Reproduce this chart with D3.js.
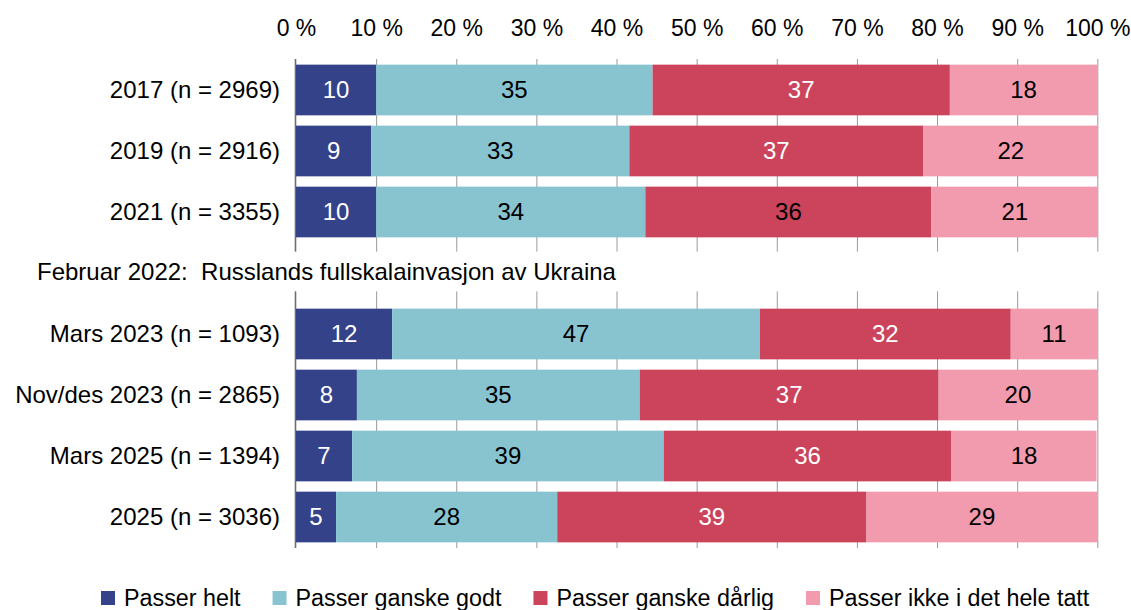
<!DOCTYPE html>
<html>
<head>
<meta charset="utf-8">
<script src="https://cdn.jsdelivr.net/npm/d3@7"></script>
<style>
  body { margin: 0; background: #fff; }
  svg { display: block; font-family: "Liberation Sans", Arial, sans-serif; }
</style>
</head>
<body>
<div id="chart"></div>
<script>
// Rows (top to bottom). 'gap' is the spacer row holding the event note
const rows = ['2017 (n = 2969)', '2019 (n = 2916)', '2021 (n = 3355)', 'gap',
  'Mars 2023 (n = 1093)', 'Nov/des 2023 (n = 2865)', 'Mars 2025 (n = 1394)', '2025 (n = 3036)']
const series = ['Passer helt', 'Passer ganske godt', 'Passer ganske dårlig', 'Passer ikke i det hele tatt']
const colours = ['#34428a', '#88c4d0', '#cb445b', '#f29baf']

// Shares as drawn, one list per series
const helt    = [10.0,  9.4, 10.0, 12.0,  7.6,  7.0,  5.0]
const godt    = [34.5, 32.2, 33.6, 45.9, 35.3, 38.9, 27.6]
const darlig  = [37.1, 36.7, 35.7, 31.3, 37.3, 35.9, 38.6]
const ikke    = [18.4, 21.8, 20.8, 10.8, 19.8, 18.1, 28.8]

// Printed labels, one list per series
const heltLbl   = [10,  9, 10, 12,  8,  7,  5]
const godtLbl   = [35, 33, 34, 47, 35, 39, 28]
const darligLbl = [37, 37, 36, 32, 37, 36, 39]
const ikkeLbl   = [18, 22, 21, 11, 20, 18, 29]

const gapNote = 'Februar 2022:  Russlands fullskalainvasjon av Ukraina'
const xTicks = [0, 10, 20, 30, 40, 50, 60, 70, 80, 90, 100]

const W = 1131, H = 610
const svg = d3.select('#chart').append('svg')
  .attr('width', W).attr('height', H)

const x = d3.scaleLinear().domain([0, 100]).range([296, 1097.3])
const y = d3.scaleBand().domain(rows).range([59, 548])
  .paddingInner(0.169).paddingOuter(0.0925)

// build stacked table
const dataRows = rows.filter(r => r !== 'gap')
const table = dataRows.map((r, i) => ({
  row: r,
  'Passer helt': helt[i],
  'Passer ganske godt': godt[i],
  'Passer ganske dårlig': darlig[i],
  'Passer ikke i det hele tatt': ikke[i],
  labels: [heltLbl[i], godtLbl[i], darligLbl[i], ikkeLbl[i]]
}))
const stacked = d3.stack().keys(series)(table)

// Axis + gridlines
const gAxis = svg.append('g')
  .attr('transform', 'translate(0, 59)')
  .call(d3.axisTop(x).tickValues(xTicks).tickFormat(d => d + ' %')
    .tickSize(-(548 - 59)).tickPadding(23))
gAxis.select('.domain').remove()
gAxis.selectAll('.tick line')
  .attr('stroke', d => d === 0 ? '#6e6e6e' : '#9a9a9a')
  .attr('stroke-width', d => d === 0 ? 1.6 : 1)
  .attr('transform', d => d === 0 ? 'translate(-1,0)' : null)
gAxis.selectAll('.tick text')
  .attr('fill', '#000')
  .style('font-size', '23px')
  .style('font-family', '"Liberation Sans", Arial, sans-serif')

// white band for the gap row, breaking the gridlines
svg.append('rect')
  .attr('x', 280).attr('width', 840)
  .attr('y', y('gap') + 4).attr('height', y.bandwidth() - 11)
  .attr('fill', '#fff')

svg.append('text')
  .attr('x', 37)
  .attr('y', y('gap') + y.bandwidth() / 2 - 1)
  .attr('dy', '0.35em')
  .style('font-size', '24px')
  .style('white-space', 'pre')
  .attr('xml:space', 'preserve')
  .text(gapNote)

// Bars
const gBars = svg.append('g')
gBars.selectAll('g.series')
  .data(stacked)
  .join('g')
  .attr('class', 'series')
  .attr('fill', (d, i) => colours[i])
  .selectAll('rect')
  .data(d => d)
  .join('rect')
  .attr('x', d => x(d[0]))
  .attr('width', d => x(d[1]) - x(d[0]))
  .attr('y', d => y(d.data.row))
  .attr('height', y.bandwidth())

// Value labels
const gLabels = svg.append('g')
stacked.forEach((s, si) => {
  gLabels.selectAll(null)
    .data(s)
    .join('text')
    .attr('x', d => (x(d[0]) + x(d[1])) / 2)
    .attr('y', d => y(d.data.row) + y.bandwidth() / 2)
    .attr('dy', '0.35em')
    .attr('text-anchor', 'middle')
    .style('font-size', '24px')
    .attr('fill', d => {
      // dark segments get white text, except the 2021 red one
      if (si === 0) return '#fff'
      if (si === 2) return d.data.row.startsWith('2021') ? '#000' : '#fff'
      return '#000'
    })
    .text(d => d.data.labels[si])
})

// Row labels
svg.append('g')
  .selectAll('text')
  .data(dataRows)
  .join('text')
  .attr('x', 280)
  .attr('y', d => y(d) + y.bandwidth() / 2)
  .attr('dy', '0.35em')
  .attr('text-anchor', 'end')
  .style('font-size', '24px')
  .text(d => d)

// Legend
const gLegend = svg.append('g').attr('transform', 'translate(101, 591)')
let lx = 0
series.forEach((s, i) => {
  const g = gLegend.append('g').attr('transform', `translate(${lx}, 0)`)
  g.append('rect').attr('width', 14).attr('height', 14).attr('fill', colours[i])
  const t = g.append('text')
    .attr('x', 23).attr('y', 7).attr('dy', '0.35em')
    .style('font-size', '23.3px')
    .text(s)
  lx += 23 + t.node().getComputedTextLength() + 32
})
</script>
</body>
</html>
